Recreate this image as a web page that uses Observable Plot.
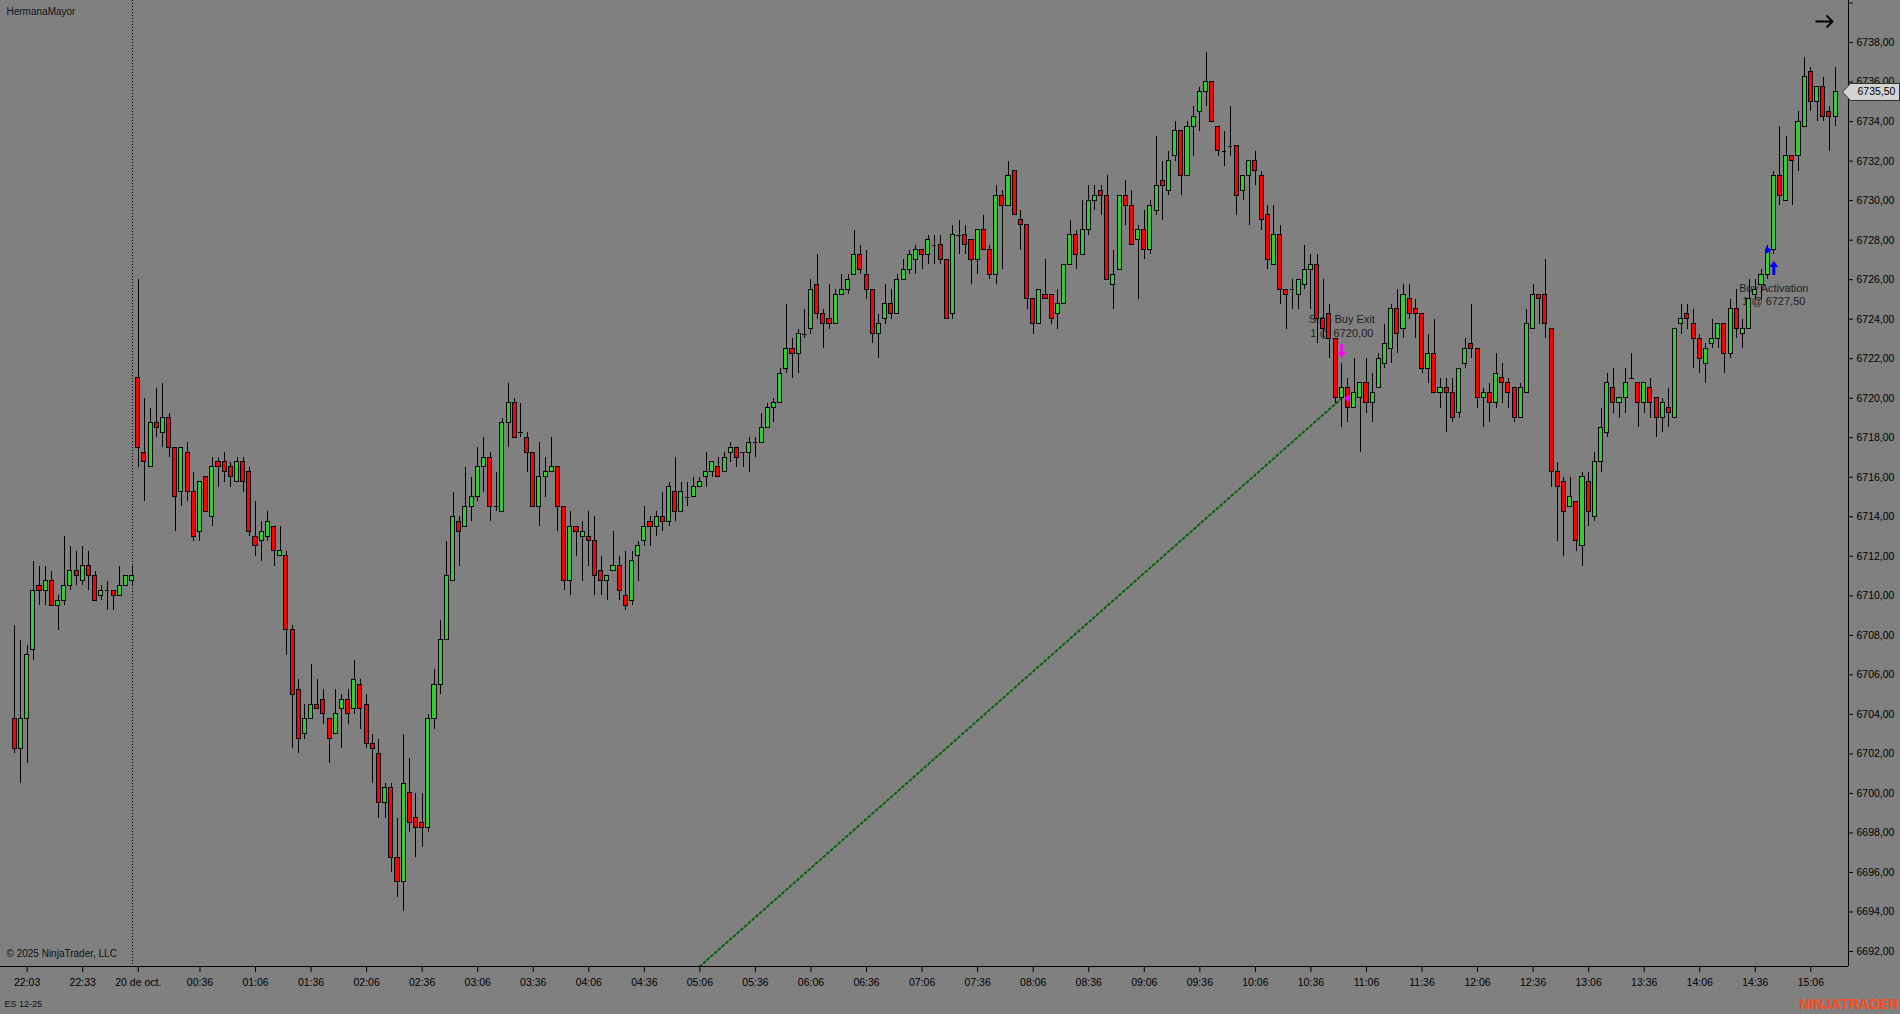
<!DOCTYPE html>
<html>
<head>
<meta charset="utf-8">
<script src="https://cdn.jsdelivr.net/npm/d3@7"></script>
<script src="https://cdn.jsdelivr.net/npm/@observablehq/plot@0.6"></script>
<style>
  html, body { margin: 0; padding: 0; background: #808080; }
  #chart svg { display: block; }
  #chart svg rect, #chart svg line { shape-rendering: crispEdges; }
</style>
</head>
<body>
<div id="chart"></div>
<script>
// ---- Candle data (bar index 0..295), ES 12-25 ----
const opens = [
6703.75,6702.25,6703.75,6707.25,6710.5,6710.25,6710.75,6709.5,6709.75,6710.5,
6711.25,6710.75,6711.5,6711.0,6710.0,6710.25,6710.25,6710.0,6710.5,6710.75,
6721.0,6717.25,6716.5,6718.75,6718.25,6719.0,6717.5,6715.25,6717.25,6715.25,
6713.25,6716.0,6714.0,6716.75,6716.75,6716.5,6715.75,6716.75,6716.25,6713.0,
6712.75,6713.0,6713.5,6712.0,6712.0,6708.25,6705.25,6703.0,6703.75,6704.5,
6704.75,6703.75,6703.0,6704.25,6704.75,6704.25,6705.5,6704.5,6702.5,6702.0,
6699.5,6700.25,6696.75,6695.5,6700.0,6698.75,6698.5,6698.25,6703.75,6705.5,
6707.75,6710.75,6713.75,6713.5,6714.5,6715.0,6716.5,6717.0,6714.5,6714.25,
6718.75,6719.75,6718.25,6718.0,6717.25,6714.5,6716.0,6716.25,6716.5,6714.5,
6710.75,6713.5,6713.0,6713.0,6712.75,6711.25,6710.75,6711.25,6711.5,6710.0,
6709.75,6712.0,6712.75,6713.75,6713.5,6714.0,6713.75,6715.25,6714.25,6715.0,
6715.0,6715.5,6716.0,6716.25,6716.5,6716.25,6717.25,6717.5,6717.25,6717.25,
6717.75,6717.75,6718.5,6719.5,6719.75,6721.5,6722.5,6722.25,6723.25,6723.5,
6725.75,6724.25,6724.0,6723.75,6725.25,6725.5,6726.25,6727.25,6726.25,6725.5,
6723.25,6724.0,6724.75,6724.25,6726.0,6726.5,6727.0,6727.5,6727.25,6727.75,
6727.75,6727.0,6724.25,6728.25,6728.25,6728.0,6727.0,6728.5,6727.5,6726.25,
6730.25,6729.75,6731.5,6729.0,6728.75,6725.0,6723.75,6725.25,6725.25,6724.25,
6724.75,6726.75,6728.25,6727.25,6728.5,6730.0,6730.5,6730.25,6725.75,6726.5,
6730.25,6729.75,6728.0,6728.5,6727.5,6729.5,6731.0,6730.5,6732.25,6733.5,
6731.25,6733.75,6734.5,6735.5,6736.0,6733.75,6732.5,6732.75,6732.75,6730.5,
6731.25,6732.0,6731.25,6729.25,6726.75,6728.25,6725.5,6725.5,6725.25,6725.75,
6726.5,6726.75,6724.0,6724.25,6723.0,6720.0,6720.5,6719.5,6720.0,6720.75,
6719.75,6720.5,6721.75,6722.5,6724.5,6723.5,6725.0,6724.5,6724.25,6721.5,
6722.25,6720.25,6720.5,6720.25,6719.25,6721.75,6722.75,6722.5,6720.0,6720.25,
6719.75,6721.0,6720.75,6720.5,6719.0,6720.25,6723.5,6725.25,6725.25,6723.5,
6716.25,6715.75,6714.5,6714.75,6712.5,6715.75,6714.0,6716.75,6718.25,6720.5,
6719.75,6720.0,6721.0,6720.75,6719.75,6720.5,6720.0,6719.0,6719.5,6719.0,
6723.75,6724.25,6723.75,6723.0,6721.75,6722.75,6723.0,6723.75,6722.25,6724.5,
6723.25,6723.5,6725.25,6725.75,6726.25,6727.5,6731.25,6730.0,6732.25,6732.25,
6733.75,6736.5,6735.0,6735.75,6734.5,6734.25
];
const highs = [
6708.5,6707.75,6707.5,6711.75,6711.5,6711.5,6711.25,6710.0,6713.0,6712.5,
6712.25,6712.5,6712.25,6711.25,6710.5,6710.75,6710.25,6711.5,6711.0,6711.5,
6726.0,6720.0,6719.5,6720.5,6720.75,6719.25,6717.5,6717.5,6717.75,6716.25,
6715.75,6716.0,6717.0,6717.0,6717.25,6716.75,6717.0,6717.0,6716.5,6714.75,
6713.75,6714.25,6713.5,6713.5,6712.25,6708.5,6705.75,6704.5,6706.5,6705.75,
6705.25,6703.75,6705.25,6705.0,6705.25,6706.75,6705.75,6705.0,6703.0,6702.75,
6700.5,6700.5,6698.75,6703.0,6701.75,6700.0,6700.0,6704.0,6706.25,6708.75,
6712.75,6715.25,6714.0,6716.5,6716.0,6717.5,6718.0,6717.25,6716.25,6719.0,
6720.75,6720.0,6719.75,6718.25,6717.25,6717.75,6717.0,6718.0,6716.5,6714.5,
6714.25,6713.5,6713.75,6714.25,6714.0,6712.0,6711.0,6713.25,6712.0,6712.25,
6712.25,6712.75,6714.5,6714.0,6714.25,6715.25,6715.75,6717.0,6715.75,6715.75,
6716.0,6716.0,6717.25,6716.75,6717.0,6717.25,6717.75,6717.5,6717.25,6718.0,
6718.0,6719.25,6719.75,6720.0,6721.5,6724.75,6723.0,6723.5,6724.5,6726.0,
6727.25,6724.5,6725.75,6725.5,6726.25,6726.25,6728.5,6727.75,6727.5,6725.5,
6724.25,6725.75,6725.5,6726.25,6727.0,6727.5,6727.75,6727.5,6728.25,6728.25,
6728.25,6727.0,6728.75,6729.0,6728.75,6728.0,6728.5,6729.25,6727.75,6730.75,
6730.5,6732.0,6731.5,6729.5,6728.75,6725.0,6725.5,6727.0,6725.25,6725.5,
6726.75,6729.0,6728.5,6730.0,6730.75,6730.75,6730.75,6731.25,6727.5,6730.25,
6731.0,6730.5,6728.75,6729.5,6730.0,6733.25,6732.0,6732.5,6734.0,6733.5,
6734.0,6734.75,6735.75,6737.5,6736.0,6733.75,6733.5,6734.75,6732.75,6731.25,
6732.0,6732.5,6731.5,6729.75,6729.75,6728.75,6725.5,6726.0,6726.0,6727.75,
6727.25,6727.25,6726.0,6724.75,6723.0,6721.75,6721.0,6722.0,6720.75,6722.0,
6721.25,6722.25,6723.75,6724.75,6725.5,6725.75,6725.75,6725.0,6724.25,6723.25,
6724.0,6721.0,6721.0,6721.0,6721.5,6723.0,6724.75,6722.5,6720.5,6720.75,
6722.25,6721.75,6721.0,6720.5,6720.75,6724.5,6725.75,6725.25,6727.0,6723.5,
6716.75,6716.0,6716.0,6714.75,6716.25,6716.25,6717.25,6719.5,6721.25,6721.5,
6720.0,6721.5,6722.25,6720.75,6720.75,6721.0,6720.0,6720.0,6720.5,6723.5,
6724.75,6724.75,6724.5,6723.25,6722.75,6724.0,6723.75,6723.75,6725.0,6725.5,
6724.0,6726.0,6726.0,6726.5,6727.75,6731.5,6733.75,6733.25,6732.25,6734.5,
6737.25,6736.75,6735.75,6736.25,6734.75,6736.75
];
const lows = [
6702.0,6700.5,6701.5,6706.75,6709.5,6709.5,6709.5,6708.25,6709.5,6710.25,
6710.5,6710.5,6710.25,6709.75,6709.75,6709.25,6709.25,6710.0,6710.5,6710.5,
6716.5,6714.75,6716.5,6718.0,6717.5,6717.0,6713.25,6714.5,6714.75,6712.75,
6712.75,6714.25,6713.5,6715.5,6715.75,6715.5,6715.75,6715.25,6713.0,6712.0,
6711.75,6712.75,6711.5,6712.0,6707.0,6702.25,6702.0,6702.75,6703.75,6704.25,
6703.5,6701.5,6703.0,6702.25,6703.5,6704.0,6703.25,6702.25,6700.5,6698.75,
6698.75,6696.0,6694.75,6694.0,6698.0,6696.75,6697.25,6698.0,6703.25,6705.0,
6707.75,6710.75,6711.5,6713.5,6713.75,6714.75,6715.25,6713.75,6714.25,6714.25,
6717.5,6718.0,6718.0,6716.25,6714.5,6713.5,6715.0,6716.25,6713.25,6710.25,
6710.0,6712.0,6710.75,6711.5,6710.0,6710.0,6709.75,6711.25,6709.75,6709.25,
6709.5,6710.75,6712.5,6712.5,6713.0,6713.25,6713.5,6713.75,6714.25,6714.5,
6715.0,6715.5,6715.5,6716.0,6716.0,6716.25,6716.75,6716.5,6716.5,6716.25,
6717.0,6717.75,6718.5,6718.75,6719.75,6721.25,6721.0,6721.25,6723.0,6723.25,
6724.0,6722.5,6723.5,6723.75,6725.25,6725.25,6726.25,6726.25,6725.0,6722.75,
6722.0,6723.75,6724.0,6724.25,6726.0,6726.25,6726.25,6726.5,6726.75,6726.75,
6726.75,6724.0,6724.0,6727.25,6727.25,6725.75,6726.25,6727.5,6726.0,6725.75,
6726.5,6729.75,6729.25,6727.5,6724.5,6723.25,6723.75,6725.0,6723.75,6723.5,
6724.75,6726.75,6726.5,6727.25,6728.25,6729.5,6729.25,6726.0,6724.5,6726.5,
6728.75,6727.75,6725.0,6727.0,6727.25,6729.25,6729.0,6730.25,6732.0,6730.25,
6731.25,6732.25,6733.5,6734.75,6734.0,6732.25,6731.75,6732.25,6729.25,6730.0,
6728.75,6730.75,6728.5,6726.5,6726.75,6724.75,6723.5,6724.5,6724.5,6725.5,
6724.5,6722.75,6723.0,6722.0,6719.75,6718.5,6718.75,6719.5,6717.25,6719.25,
6718.75,6720.5,6721.5,6721.75,6722.25,6723.0,6724.0,6723.0,6721.25,6720.75,
6720.25,6719.5,6718.25,6718.75,6719.0,6721.5,6722.0,6719.5,6718.5,6718.75,
6719.5,6719.75,6719.5,6718.75,6719.0,6720.25,6723.5,6723.75,6723.0,6715.5,
6712.75,6712.0,6714.5,6712.25,6711.5,6713.5,6713.75,6716.25,6718.0,6719.25,
6719.0,6719.25,6721.0,6718.5,6719.25,6719.0,6718.0,6718.25,6718.5,6719.0,
6723.25,6723.5,6721.5,6721.25,6720.75,6722.5,6722.5,6721.25,6722.0,6723.0,
6722.5,6723.5,6725.0,6725.0,6726.0,6727.25,6729.75,6730.0,6729.75,6731.5,
6733.75,6734.5,6734.0,6734.0,6732.5,6733.75
];
const closes = [
6702.25,6703.75,6707.0,6710.25,6710.25,6710.75,6709.5,6709.75,6710.5,6711.25,
6711.0,6711.5,6711.0,6709.75,6710.25,6710.25,6710.0,6710.5,6711.0,6711.0,
6717.5,6716.75,6718.75,6718.5,6719.0,6717.5,6715.0,6717.5,6715.25,6713.0,
6715.75,6714.25,6716.5,6716.5,6716.25,6716.0,6716.75,6715.75,6713.25,6712.5,
6713.25,6713.75,6712.25,6712.25,6708.25,6705.0,6702.75,6703.75,6704.5,6704.25,
6704.0,6702.75,6704.0,6704.75,6704.0,6705.75,6704.25,6702.5,6702.25,6699.5,
6700.25,6696.75,6695.5,6700.5,6698.5,6698.25,6698.25,6703.75,6705.5,6707.75,
6711.0,6714.0,6713.25,6714.5,6715.0,6716.5,6717.0,6714.5,6714.5,6718.75,
6719.75,6718.0,6718.25,6717.25,6714.5,6716.0,6716.25,6716.5,6714.5,6710.75,
6713.5,6713.25,6713.25,6712.75,6711.0,6710.75,6711.0,6711.5,6710.25,6709.5,
6711.75,6712.5,6713.5,6713.5,6714.0,6713.75,6715.5,6714.25,6715.25,6715.0,
6715.5,6715.75,6716.25,6716.75,6716.0,6717.0,6717.5,6717.0,6717.25,6717.75,
6717.75,6718.5,6719.5,6719.75,6721.25,6722.5,6722.25,6723.25,6723.25,6725.5,
6724.25,6723.75,6723.75,6725.25,6725.5,6726.0,6727.25,6726.5,6725.5,6723.25,
6723.75,6724.75,6724.25,6726.0,6726.5,6727.25,6727.5,6727.25,6728.0,6727.75,
6727.0,6724.0,6728.25,6728.25,6727.75,6727.0,6728.5,6727.5,6726.25,6730.25,
6729.75,6731.25,6729.25,6728.75,6725.0,6723.75,6725.5,6725.0,6724.0,6724.75,
6726.75,6728.25,6727.25,6728.5,6730.0,6730.25,6730.25,6726.0,6726.25,6730.25,
6729.75,6727.75,6728.5,6727.5,6729.75,6730.75,6730.75,6732.0,6733.5,6731.25,
6733.75,6734.25,6735.5,6736.0,6734.0,6732.5,6732.5,6732.75,6730.25,6731.25,
6732.0,6731.5,6729.0,6727.0,6728.25,6725.5,6725.25,6725.5,6726.0,6726.5,
6726.75,6724.0,6723.5,6723.0,6720.0,6720.5,6719.5,6720.25,6720.75,6719.75,
6720.25,6722.0,6722.75,6724.5,6723.25,6725.25,6724.25,6724.25,6721.5,6722.25,
6720.25,6720.5,6720.25,6719.0,6721.5,6722.5,6722.5,6720.0,6720.25,6719.75,
6721.25,6720.75,6720.25,6719.0,6720.5,6723.75,6725.25,6725.0,6723.75,6716.25,
6715.5,6714.25,6715.0,6712.75,6716.0,6714.25,6716.75,6718.5,6720.75,6719.75,
6720.0,6720.75,6721.0,6719.75,6720.75,6719.75,6719.0,6719.75,6719.25,6723.5,
6724.0,6724.0,6723.0,6722.0,6722.5,6723.0,6723.75,6722.25,6724.5,6723.5,
6723.5,6725.0,6725.5,6726.25,6727.5,6731.25,6730.25,6732.25,6732.0,6734.0,
6736.25,6735.0,6735.75,6734.25,6734.25,6735.5
];

// ---- Axis ticks ----
const timeTickBars = [2,11,20,30,39,48,57,66,75,84,93,102,111,120,129,138,147,156,165,174,183,192,201,210,219,228,237,246,255,264,273,282,291];
const timeTickLabels = ["22:03","22:33","20 de oct.","00:36","01:06","01:36","02:06","02:36","03:06","03:36","04:06","04:36","05:06","05:36","06:06","06:36","07:06","07:36","08:06","08:36","09:06","09:36","10:06","10:36","11:06","11:36","12:06","12:36","13:06","13:36","14:06","14:36","15:06"];
const priceTicks = [6692,6694,6696,6698,6700,6702,6704,6706,6708,6710,6712,6714,6716,6718,6720,6722,6724,6726,6728,6730,6732,6734,6736,6738];
const priceTopTick = [6740];

// ---- Session break, trade markers ----
const sessionBreakBar = [19];
const exitMarker = [{bar: 215, price: 6720.0, text: "Stop Buy Exit\n1 @ 6720,00"}];
const entryMarker = [{bar: 285, price: 6727.5, text: "Buy Activation\n1 @ 6727,50"}];
const tradeLine = [{bar: 111, price: 6691.25}, {bar: 215, price: 6720.0}];

// ---- Scale extents ----
const xDomain = [-2.32, 297.1];
const yDomain = [6691.24, 6740.13];

const bars = opens.map((o, k) => ({k, o, h: highs[k], l: lows[k], c: closes[k]}));
const bodies = bars.filter(d => d.o !== d.c);
const dojis = bars.filter(d => d.o === d.c);
const labelByBar = new Map(timeTickBars.map((b, i) => [b, timeTickLabels[i]]));
const fmtPrice = d => d.toFixed(2).replace(".", ",");
const half = 0.33;

// custom symbols
const arrowDown = {draw(c) { c.moveTo(-1.5,-7); c.lineTo(1.5,-7); c.lineTo(1.5,1); c.lineTo(4.5,1); c.lineTo(0,7); c.lineTo(-4.5,1); c.lineTo(-1.5,1); c.closePath(); }};
const arrowUp = {draw(c) { c.moveTo(-1.5,7); c.lineTo(1.5,7); c.lineTo(1.5,-1); c.lineTo(4.5,-1); c.lineTo(0,-7); c.lineTo(-4.5,-1); c.lineTo(-1.5,-1); c.closePath(); }};
const triLeft = {draw(c) { c.moveTo(-3,0); c.lineTo(3,-4); c.lineTo(3,4); c.closePath(); }};
const triRight = {draw(c) { c.moveTo(3,0); c.lineTo(-3,-4); c.lineTo(-3,4); c.closePath(); }};
const priceTag = {draw(c) { c.moveTo(-6,0); c.lineTo(2,-8.5); c.lineTo(51,-8.5); c.lineTo(51,8.5); c.lineTo(2,8.5); c.closePath(); }};
const navArrow = {draw(c) { c.moveTo(-9,0); c.lineTo(8,0); c.moveTo(2,-6); c.lineTo(8,0); c.lineTo(2,6); }};

const lastClose = [closes[closes.length - 1]];

const chart = Plot.plot({
  width: 1900,
  height: 1014,
  marginLeft: 0,
  marginTop: 0,
  marginRight: 52,
  marginBottom: 48,
  style: {background: "#808080", fontFamily: "'Liberation Sans', Arial, sans-serif", fontSize: "10.5px", color: "#000", overflow: "visible"},
  x: {type: "linear", domain: xDomain, label: null},
  y: {type: "linear", domain: yDomain, label: null},
  color: {type: "identity"},
  marks: [
    // order annotation texts (under candles)
    Plot.text(exitMarker, {x: "bar", y: d => highs[d.bar], dy: -38, text: "text", fontSize: 11, lineHeight: 1.25, fill: "#202020"}),
    Plot.text(entryMarker, {x: "bar", y: d => lows[d.bar], dy: 39, text: "text", fontSize: 11, lineHeight: 1.25, fill: "#202020"}),
    // session break
    Plot.ruleX(sessionBreakBar, {x: d => d, stroke: "#000", strokeDasharray: "1,2"}),
    // trade line
    Plot.line(tradeLine, {x: "bar", y: "price", stroke: "#006400", strokeWidth: 2, strokeDasharray: "2,3", clip: true}),
    // wicks
    Plot.ruleX(bars, {x: "k", y1: "l", y2: "h", stroke: "#000", strokeWidth: 1}),
    // bodies
    Plot.rect(bodies, {x1: d => d.k - half, x2: d => d.k + half, y1: "o", y2: "c", fill: d => d.c > d.o ? "#32CD32" : "#FF0000", stroke: "#000", strokeWidth: 1}),
    // doji
    Plot.ruleY(dojis, {y: "o", x1: d => d.k - 0.36, x2: d => d.k + 0.36, stroke: "#000"}),
    // execution markers
    Plot.dot(exitMarker, {x: "bar", y: d => highs[d.bar], dy: -13, symbol: arrowDown, fill: "#FF00FF", stroke: "none"}),
    Plot.dot(exitMarker, {x: "bar", y: "price", dx: 5, symbol: triLeft, fill: "#FF00FF", stroke: "none"}),
    Plot.dot(entryMarker, {x: "bar", y: d => lows[d.bar], dy: 13, symbol: arrowUp, fill: "#0000FF", stroke: "none"}),
    Plot.dot(entryMarker, {x: "bar", y: "price", dx: -5, symbol: triRight, fill: "#0000FF", stroke: "none"}),
    // axes
    Plot.ruleY([yDomain[0]], {stroke: "#000"}),
    Plot.ruleX([xDomain[1]], {stroke: "#000"}),
    Plot.axisX(timeTickBars, {anchor: "bottom", tickSize: 6, tickPadding: 6, tickFormat: d => labelByBar.get(d), label: null, fontSize: 10.5}),
    Plot.axisY(priceTicks, {anchor: "right", tickSize: 4, tickPadding: 4, tickFormat: fmtPrice, label: null, fontSize: 10.5}),
    Plot.axisY(priceTopTick, {anchor: "right", tickSize: 4, tickFormat: () => "", label: null}),
    // last price tag
    Plot.dot(lastClose, {y: d => d, frameAnchor: "right", symbol: priceTag, fill: "#d4d4d4", stroke: "#303030", strokeWidth: 1}),
    Plot.text(lastClose, {y: d => d, frameAnchor: "right", dx: 9, textAnchor: "start", text: fmtPrice, fontSize: 10.5, fill: "#000"}),
    // chart chrome
    Plot.dot([0], {frameAnchor: "top-right", dx: -24, dy: 21, symbol: navArrow, fill: "none", stroke: "#000", strokeWidth: 2}),
    Plot.text(["HermanaMayor"], {text: d => d, frameAnchor: "top-left", dx: 6, dy: 11, textAnchor: "start", lineAnchor: "middle", fontSize: 10, fill: "#101010"}),
    Plot.text(["© 2025 NinjaTrader, LLC"], {text: d => d, frameAnchor: "bottom-left", dx: 6, dy: -13, textAnchor: "start", lineAnchor: "middle", fontSize: 10, fill: "#101010"}),
    Plot.text(["ES 12-25"], {text: d => d, frameAnchor: "bottom-left", dx: 4, dy: 38, textAnchor: "start", lineAnchor: "middle", fontSize: 9, fill: "#101010"}),
    Plot.text(["NINJATRADER"], {text: d => d, frameAnchor: "bottom-right", dx: 50, dy: 38, textAnchor: "end", lineAnchor: "middle", fontSize: 14, fontWeight: "bold", fill: "#FF4A1C"})
  ]
});
document.getElementById("chart").appendChild(chart);
</script>
</body>
</html>
